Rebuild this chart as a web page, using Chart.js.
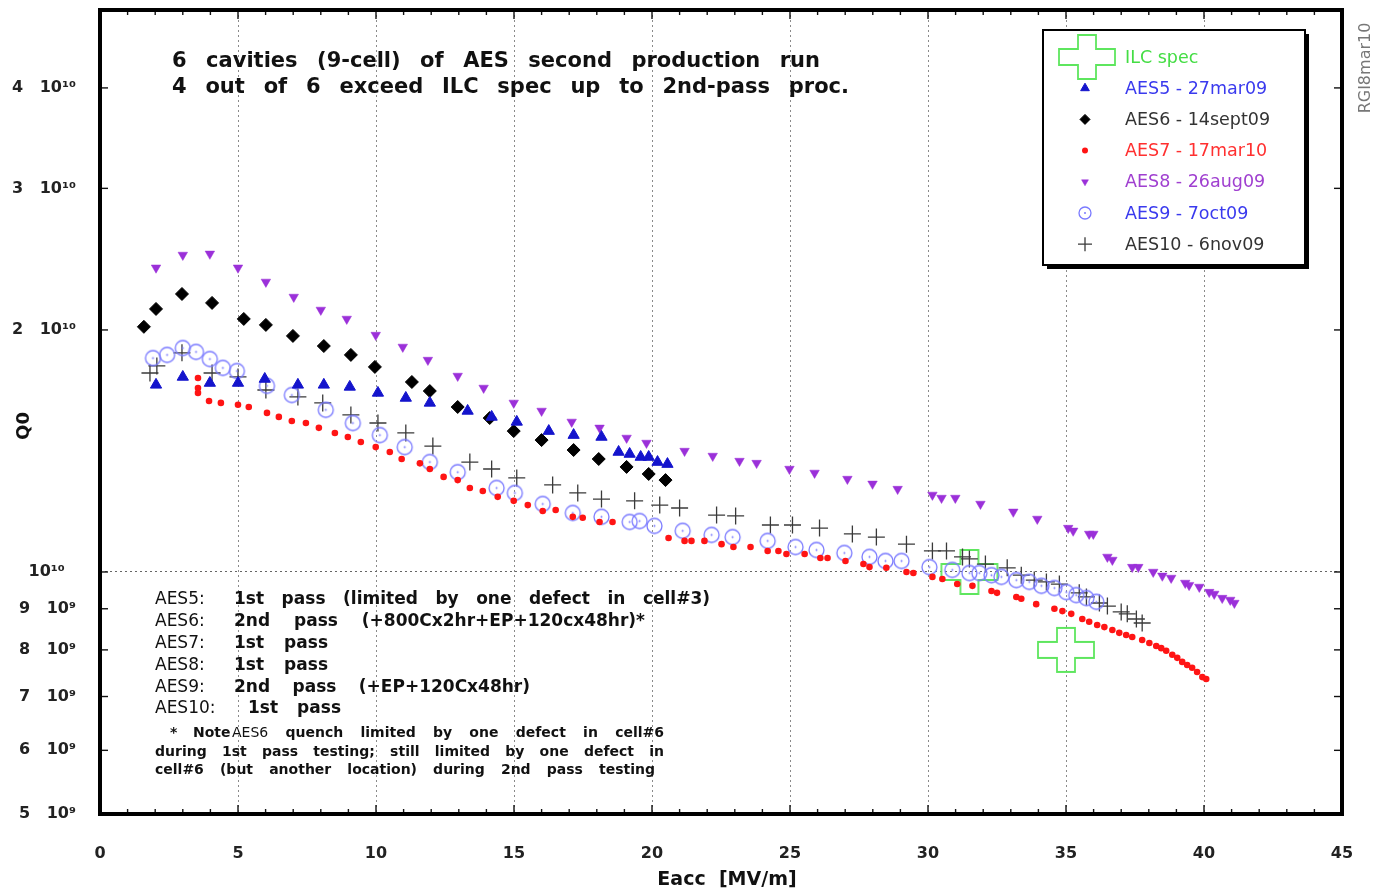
<!DOCTYPE html>
<html>
<head>
<meta charset="utf-8">
<title>AES second production run - Q0 vs Eacc</title>
<script src="https://cdn.jsdelivr.net/npm/chart.js@4.4.0/dist/chart.umd.min.js"></script>
<style>
  html, body { margin: 0; padding: 0; background: #fff; }
  #wrap { width: 1376px; height: 892px; }
</style>
</head>
<body>
<div id="wrap"><canvas id="q0Chart" width="1376" height="892"></canvas></div>
<script>
// Eacc in MV/m, Q0 in units of 1e10
const eaccAES5 = [2.03, 3.0, 3.98, 5.0, 5.97, 7.17, 8.11, 9.05, 10.07, 11.08, 11.95, 13.32, 14.19, 15.1, 16.26, 17.16, 18.17, 18.79, 19.19, 19.59, 19.88, 20.2, 20.56];
const q0AES5 = [1.709, 1.748, 1.718, 1.718, 1.738, 1.709, 1.709, 1.699, 1.670, 1.646, 1.623, 1.586, 1.559, 1.537, 1.497, 1.480, 1.472, 1.410, 1.402, 1.390, 1.390, 1.370, 1.362];

const eaccAES6 = [1.59, 2.03, 2.97, 4.06, 5.21, 6.01, 6.99, 8.11, 9.09, 9.96, 11.3, 11.95, 12.96, 14.12, 14.99, 16.0, 17.16, 18.07, 19.08, 19.88, 20.49];
const q0AES6 = [2.018, 2.124, 2.217, 2.161, 2.064, 2.029, 1.966, 1.910, 1.862, 1.799, 1.723, 1.679, 1.604, 1.554, 1.497, 1.459, 1.418, 1.382, 1.351, 1.324, 1.301];

const eaccAES7 = [3.55, 3.55, 3.55, 3.95, 4.38, 5.0, 5.39, 6.05, 6.48, 6.95, 7.46, 7.93, 8.51, 8.98, 9.45, 9.99, 10.5, 10.93, 11.59, 11.95,
  12.45, 12.96, 13.4, 13.87, 14.41, 14.99, 15.5, 16.04, 16.51, 17.13, 17.49, 18.1, 18.57, 20.6, 21.18, 21.43, 21.9, 22.52, 22.95, 23.57,
  24.19, 24.58, 24.87, 25.53, 26.1, 26.36, 27.01, 27.66, 27.88, 28.49, 29.22, 29.47, 30.16, 30.52, 31.06, 31.61, 32.3, 32.5, 33.2, 33.38,
  33.92, 34.58, 34.87, 35.19, 35.59, 35.84, 36.13, 36.39, 36.68, 36.93, 37.18, 37.4, 37.76, 38.02, 38.27, 38.45, 38.63, 38.85, 39.03, 39.21,
  39.39, 39.57, 39.75, 39.94, 40.08];
const q0AES7 = [1.743, 1.694, 1.670, 1.632, 1.623, 1.614, 1.604, 1.577, 1.559, 1.541, 1.532, 1.511, 1.489, 1.472, 1.451, 1.430, 1.410, 1.382, 1.365, 1.343,
  1.313, 1.301, 1.272, 1.261, 1.240, 1.226, 1.211, 1.191, 1.194, 1.171, 1.168, 1.154, 1.154, 1.102, 1.093, 1.093, 1.093, 1.083, 1.074, 1.074,
  1.062, 1.062, 1.053, 1.053, 1.041, 1.041, 1.032, 1.023, 1.014, 1.012, 1.000, 0.997, 0.986, 0.980, 0.966, 0.961, 0.947, 0.942, 0.931, 0.926,
  0.912, 0.900, 0.894, 0.887, 0.874, 0.867, 0.859, 0.854, 0.847, 0.840, 0.835, 0.830, 0.823, 0.816, 0.809, 0.804, 0.798, 0.789, 0.782, 0.773,
  0.766, 0.760, 0.751, 0.740, 0.736];

const eaccAES8 = [2.03, 3.0, 3.98, 5.0, 6.01, 7.02, 8.0, 8.94, 9.99, 10.97, 11.88, 12.96, 13.9, 14.99, 16.0, 17.09, 18.1, 19.08, 19.8, 21.18,
  22.2, 23.17, 23.79, 24.98, 25.89, 27.08, 27.99, 28.9, 30.16, 30.49, 30.99, 31.9, 33.09, 33.96, 35.08, 35.26, 35.84, 35.99, 36.5, 36.68,
  37.4, 37.62, 38.16, 38.49, 38.81, 39.32, 39.46, 39.83, 40.19, 40.37, 40.66, 40.95, 41.1];
const q0AES8 = [2.390, 2.479, 2.487, 2.390, 2.295, 2.198, 2.118, 2.064, 1.971, 1.905, 1.835, 1.753, 1.694, 1.623, 1.586, 1.537, 1.511, 1.468, 1.447, 1.414,
  1.394, 1.374, 1.366, 1.343, 1.328, 1.305, 1.287, 1.268, 1.247, 1.236, 1.236, 1.215, 1.188, 1.164, 1.134, 1.125, 1.115, 1.115, 1.044, 1.035,
  1.014, 1.014, 1.000, 0.989, 0.983, 0.969, 0.963, 0.958, 0.944, 0.939, 0.928, 0.923, 0.915];

const eaccAES9 = [1.92, 2.43, 3.0, 3.48, 3.98, 4.45, 4.96, 6.05, 6.95, 8.18, 9.16, 10.14, 11.04, 11.95, 12.96, 14.37, 15.03, 16.04, 17.13, 18.17,
  19.19, 19.55, 20.09, 21.11, 22.16, 22.92, 24.19, 25.2, 25.96, 26.97, 27.88, 28.46, 29.04, 30.05, 30.88, 31.5, 31.86, 32.3, 32.66, 33.2,
  33.67, 34.11, 34.58, 35.01, 35.37, 35.74, 36.1];
const q0AES9 = [1.845, 1.862, 1.899, 1.878, 1.840, 1.794, 1.778, 1.704, 1.660, 1.591, 1.532, 1.480, 1.430, 1.370, 1.331, 1.272, 1.254, 1.215, 1.184, 1.171,
  1.154, 1.157, 1.141, 1.125, 1.112, 1.105, 1.093, 1.074, 1.065, 1.056, 1.044, 1.032, 1.032, 1.014, 1.006, 0.997, 0.997, 0.991, 0.986, 0.977,
  0.972, 0.961, 0.955, 0.944, 0.936, 0.928, 0.918];

const eaccAES10 = [1.81, 2.06, 2.97, 4.06, 5.0, 6.01, 7.17, 8.07, 9.09, 10.07, 11.08, 12.06, 13.4, 14.19, 15.1, 16.4, 17.31, 18.17, 19.37, 20.28,
  21.0, 22.34, 23.03, 24.29, 25.09, 26.07, 27.26, 28.13, 29.22, 30.16, 30.67, 31.25, 31.5, 32.08, 32.87, 33.38, 33.85, 34.29, 34.76, 35.48,
  35.74, 36.21, 36.5, 37.0, 37.22, 37.55, 37.76];
const q0AES10 = [1.768, 1.804, 1.873, 1.768, 1.748, 1.684, 1.651, 1.623, 1.568, 1.532, 1.489, 1.434, 1.370, 1.343, 1.309, 1.283, 1.254, 1.232, 1.226, 1.211,
  1.201, 1.177, 1.174, 1.144, 1.144, 1.134, 1.115, 1.105, 1.083, 1.062, 1.062, 1.044, 1.038, 1.023, 1.012, 0.991, 0.977, 0.972, 0.966, 0.942,
  0.931, 0.915, 0.907, 0.892, 0.887, 0.874, 0.864];

const eaccILC = [31.5, 35.0];
const q0ILC = [1.0, 0.8];

const xTickLabels = [0, 5, 10, 15, 20, 25, 30, 35, 40, 45];
const yTickValues = [5e9, 6e9, 7e9, 8e9, 9e9, 1e10, 2e10, 3e10, 4e10];
const yTickLabels = ['5   10\u2079', '6   10\u2079', '7   10\u2079', '8   10\u2079', '9   10\u2079', '10\u00b9\u2070  ', '2   10\u00b9\u2070', '3   10\u00b9\u2070', '4   10\u00b9\u2070'];

const FONT = '"DejaVu Sans", Verdana, sans-serif';

const toPoints = (xs, qs) => xs.map((e, i) => ({ x: e, y: qs[i] * 1e10 }));

// hollow green cross used for the ILC spec marks
function makeSpecCross() {
    const c = document.createElement('canvas');
    c.width = 60; c.height = 48;
    const g = c.getContext('2d');
    const cx = 30, cy = 24, W = 28, H = 22, a = 9, b = 8;
    g.strokeStyle = '#5ee65e';
    g.lineWidth = 1.8;
    g.beginPath();
    g.moveTo(cx - a, cy - H); g.lineTo(cx + a, cy - H); g.lineTo(cx + a, cy - b);
    g.lineTo(cx + W, cy - b); g.lineTo(cx + W, cy + b); g.lineTo(cx + a, cy + b);
    g.lineTo(cx + a, cy + H); g.lineTo(cx - a, cy + H); g.lineTo(cx - a, cy + b);
    g.lineTo(cx - W, cy + b); g.lineTo(cx - W, cy - b); g.lineTo(cx - a, cy - b);
    g.closePath();
    g.stroke();
    return c;
}

// open circle with a small centre dot (AES9)
function makeRing(r) {
    const c = document.createElement('canvas');
    c.width = 2 * r + 4; c.height = 2 * r + 4;
    const g = c.getContext('2d');
    g.strokeStyle = '#7a7aff';
    g.fillStyle = '#7a7aff';
    g.lineWidth = 1.3;
    g.beginPath(); g.arc(r + 2, r + 2, r, 0, Math.PI * 2); g.stroke();
    g.beginPath(); g.arc(r + 2, r + 2, 1, 0, Math.PI * 2); g.fill();
    return c;
}

const specCross = makeSpecCross();
const ring = makeRing(7.5);
const ringSmall = makeRing(6);

const datasets = [
    { label: 'AES5 - 27mar09', data: toPoints(eaccAES5, q0AES5), pointStyle: 'triangle', pointRadius: 6.5,
      backgroundColor: '#1414cc', borderColor: '#1414cc', pointBorderWidth: 1, textColor: '#3a3aee', legendRadius: 5 },
    { label: 'AES6 - 14sept09', data: toPoints(eaccAES6, q0AES6), pointStyle: 'rectRot', pointRadius: 6.5,
      backgroundColor: '#000', borderColor: '#000', pointBorderWidth: 1, textColor: '#333', legendRadius: 5 },
    { label: 'AES7 - 17mar10', data: toPoints(eaccAES7, q0AES7), pointStyle: 'circle', pointRadius: 3.3,
      backgroundColor: '#ff1414', borderColor: '#ff1414', pointBorderWidth: 0, textColor: '#ff3030', legendRadius: 3 },
    { label: 'AES8 - 26aug09', data: toPoints(eaccAES8, q0AES8), pointStyle: 'triangle', pointRotation: 180, pointRadius: 5.5,
      backgroundColor: '#9b30d9', borderColor: '#9b30d9', pointBorderWidth: 0.5, textColor: '#a040d0', legendRadius: 4 },
    { label: 'AES9 - 7oct09', data: toPoints(eaccAES9, q0AES9), pointStyle: ring, pointRadius: 8,
      backgroundColor: 'transparent', borderColor: '#7a7aff', legendStyle: ringSmall, textColor: '#3a3aee' },
    { label: 'AES10 - 6nov09', data: toPoints(eaccAES10, q0AES10), pointStyle: 'cross', pointRadius: 8.5,
      backgroundColor: '#3a3a3a', borderColor: '#3a3a3a', pointBorderWidth: 1.3, textColor: '#333', legendRadius: 7 },
    { label: 'ILC spec', data: toPoints(eaccILC, q0ILC), pointStyle: specCross, pointRadius: 24,
      backgroundColor: 'transparent', borderColor: '#5ee65e', textColor: '#44dd44' }
];

const legendOrder = [6, 0, 1, 2, 3, 4, 5];

function line(ctx, x1, y1, x2, y2) {
    ctx.beginPath(); ctx.moveTo(x1, y1); ctx.lineTo(x2, y2); ctx.stroke();
}

// draw words spread evenly between x0 and x1
function spread(ctx, words, x0, x1, y) {
    const widths = words.map(w => { ctx.font = w.f; return ctx.measureText(w.t).width; });
    const total = widths.reduce((s, w) => s + w, 0);
    const gap = words.length > 1 ? (x1 - x0 - total) / (words.length - 1) : 0;
    let x = x0;
    words.forEach((w, i) => {
        ctx.font = w.f;
        ctx.fillText(w.t, x, y);
        x += widths[i] + gap;
    });
}
const words = (text, f) => text.split(/\s+/).map(t => ({ t, f }));

const decor = {
    id: 'decor',
    afterDatasetsDraw(chart) {
        const { ctx, chartArea: a, scales: { x, y } } = chart;
        ctx.save();

        // inward tick marks
        ctx.strokeStyle = '#111';
        ctx.lineWidth = 1.4;
        for (let v = 1; v < 45; v++) {
            const px = x.getPixelForValue(v);
            const len = v % 5 ? 5 : 9;
            line(ctx, px, a.bottom, px, a.bottom - len);
            line(ctx, px, a.top, px, a.top + len);
        }
        yTickValues.forEach(v => {
            const py = y.getPixelForValue(v);
            line(ctx, a.left, py, a.left + 8, py);
            line(ctx, a.right, py, a.right - 8, py);
        });

        // frame
        ctx.strokeStyle = '#000';
        ctx.lineWidth = 4;
        ctx.strokeRect(a.left, a.top, a.right - a.left, a.bottom - a.top);

        ctx.fillStyle = '#111';
        ctx.textBaseline = 'middle';
        ctx.textAlign = 'left';

        // header
        const hb = 'bold 21px ' + FONT;
        spread(ctx, words('6 cavities (9-cell) of AES second production run', hb), 172, 820, 62);
        spread(ctx, words('4 out of 6 exceed ILC spec up to 2nd-pass proc.', hb), 172, 849, 88);

        // notes on the cavities
        const nr = '17px ' + FONT, nb = 'bold 17px ' + FONT;
        const note = (label, rest, xr, x1, yy) => {
            ctx.font = nr;
            ctx.fillText(label, 155, yy);
            spread(ctx, words(rest, nb), xr, x1, yy);
        };
        note('AES5:', '1st pass (limited by one defect in cell#3)', 234, 710, 600);
        note('AES6:', '2nd pass (+800Cx2hr+EP+120cx48hr)*', 234, 645, 622);
        note('AES7:', '1st pass', 234, 328, 644);
        note('AES8:', '1st pass', 234, 328, 666);
        note('AES9:', '2nd pass (+EP+120Cx48hr)', 234, 530, 688);
        note('AES10:', '1st pass', 248, 341, 709);

        const sb = 'bold 14px ' + FONT, sr = '14px ' + FONT;
        ctx.font = sb;
        ctx.fillText('*', 170, 733);
        ctx.fillText('Note', 193, 733);
        spread(ctx, [{ t: 'AES6', f: sr }].concat(words('quench limited by one defect in cell#6', sb)), 232, 664, 733);
        spread(ctx, words('during 1st pass testing; still limited by one defect in', sb), 155, 664, 752);
        spread(ctx, words('cell#6 (but another location) during 2nd pass testing', sb), 155, 655, 770);

        // axis titles
        ctx.font = 'bold 19px ' + FONT;
        ctx.textAlign = 'center';
        ctx.fillText('Eacc  [MV/m]', (a.left + a.right) / 2 + 6, 880);
        ctx.save();
        ctx.translate(24, 426);
        ctx.rotate(-Math.PI / 2);
        ctx.font = 'bold 18px ' + FONT;
        ctx.fillText('Q0', 0, 0);
        ctx.restore();

        // stamp
        ctx.save();
        ctx.translate(1366, 68);
        ctx.rotate(-Math.PI / 2);
        ctx.font = '16px ' + FONT;
        ctx.fillStyle = '#777';
        ctx.fillText('RGI8mar10', 0, 0);
        ctx.restore();

        // legend box with drop shadow
        const lx = 1043, ly = 30, lw = 262, lh = 235;
        ctx.fillStyle = '#000';
        ctx.fillRect(lx + 4, ly + 4, lw, lh);
        ctx.fillStyle = '#fff';
        ctx.fillRect(lx, ly, lw, lh);
        ctx.lineWidth = 2;
        ctx.strokeStyle = '#000';
        ctx.strokeRect(lx, ly, lw, lh);

        ctx.textAlign = 'left';
        ctx.font = '17.5px ' + FONT;
        legendOrder.forEach((di, row) => {
            const ds = chart.data.datasets[di];
            const cy = 57 + row * 31.2;
            const style = ds.legendStyle || ds.pointStyle;
            ctx.fillStyle = ds.backgroundColor;
            ctx.strokeStyle = ds.borderColor;
            ctx.lineWidth = ds.pointBorderWidth || 1;
            Chart.helpers.drawPoint(ctx, {
                pointStyle: style,
                rotation: ds.pointRotation || 0,
                radius: ds.legendRadius || ds.pointRadius,
                borderWidth: ds.pointBorderWidth || 0
            }, di === 6 ? 1087 : 1085, cy);
            ctx.fillStyle = ds.textColor;
            ctx.fillText(ds.label, 1125, cy + 1);
        });

        ctx.restore();
    }
};

new Chart(document.getElementById('q0Chart'), {
    type: 'scatter',
    data: { datasets },
    options: {
        responsive: false,
        animation: false,
        events: [],
        layout: { autoPadding: false, padding: { top: 10, right: 34, left: 0, bottom: 0 } },
        plugins: { legend: { display: false }, tooltip: { enabled: false } },
        scales: {
            x: {
                type: 'linear',
                min: 0,
                max: 45,
                afterFit: s => { s.height = 78; s.paddingLeft = 0; s.paddingRight = 0; },
                border: { display: false, dash: [2, 3] },
                grid: {
                    drawTicks: false,
                    lineWidth: 1,
                    color: c => (c.tick.value % 5 === 0 && c.tick.value > 0 && c.tick.value < 45) ? '#8a8a8a' : 'transparent'
                },
                ticks: {
                    stepSize: 1,
                    autoSkip: false,
                    maxRotation: 0,
                    padding: 30,
                    color: '#222',
                    font: { family: FONT, size: 16, weight: 'bold' },
                    callback: v => xTickLabels.includes(v) ? String(v) : ''
                }
            },
            y: {
                type: 'logarithmic',
                min: 5e9,
                max: 5e10,
                afterFit: s => { s.width = 100; s.paddingTop = 0; s.paddingBottom = 0; },
                afterBuildTicks: s => { s.ticks = yTickValues.map(v => ({ value: v })); },
                border: { display: false, dash: [2, 3] },
                grid: {
                    drawTicks: false,
                    lineWidth: 1,
                    color: c => c.tick.value === 1e10 ? '#666' : 'transparent'
                },
                ticks: {
                    padding: 24,
                    color: '#222',
                    font: { family: FONT, size: 16, weight: 'bold' },
                    callback: v => yTickLabels[yTickValues.indexOf(v)] || ''
                }
            }
        }
    },
    plugins: [decor]
});
</script>
</body>
</html>
